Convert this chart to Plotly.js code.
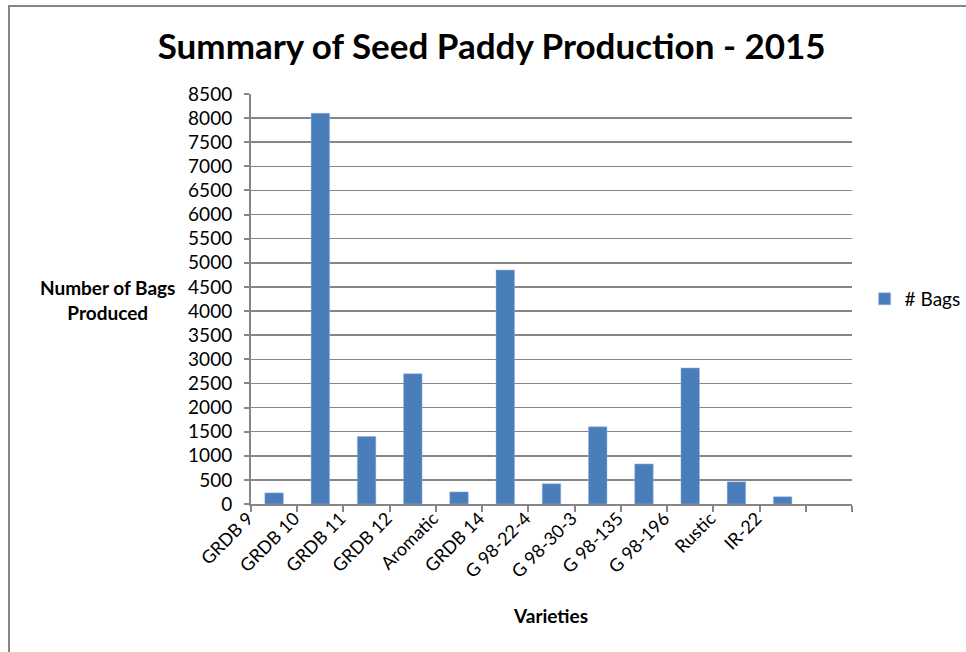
<!DOCTYPE html>
<html>
<head>
<meta charset="utf-8">
<script src="https://cdn.plot.ly/plotly-3.0.1.min.js"></script>
<style>
html,body{margin:0;padding:0;background:#fff;}
#chart{width:966px;height:652px;position:relative;}
#frame{position:absolute;left:8px;top:5px;width:960px;height:660px;border-left:2px solid #868686;border-top:2px solid #868686;pointer-events:none;}
</style>
</head>
<body>
<div id="chart"></div>
<div id="frame"></div>
<script>
const varieties = ['GRDB 9','GRDB 10','GRDB 11','GRDB 12','Aromatic','GRDB 14','G 98-22-4','G 98-30-3','G 98-135','G 98-196','Rustic','IR-22',' '];
const bags = [230, 8100, 1400, 2700, 250, 4850, 420, 1600, 830, 2820, 460, 150, null];
const yTicks = [0,500,1000,1500,2000,2500,3000,3500,4000,4500,5000,5500,6000,6500,7000,7500,8000,8500];

const FONT = 'Lato, "Open Sans", sans-serif';

const trace = {
  type: 'bar',
  x: varieties,
  y: bags,
  name: '# Bags',
  marker: {color: '#4a7ebb', line: {color: '#8eb4e3', width: 0.5}},
  width: 0.4,
  hoverinfo: 'x+y'
};

const layout = {
  width: 966,
  height: 652,
  margin: {l: 251, r: 114, t: 94, b: 148, autoexpand: false},
  paper_bgcolor: '#ffffff',
  plot_bgcolor: '#ffffff',
  font: {family: FONT, color: '#000000'},
  title: {
    text: '<b>Summary of Seed Paddy Production - 2015</b>',
    font: {family: FONT, size: 35, color: '#000000'},
    x: 0.509, xanchor: 'center',
    y: 0.928, yanchor: 'middle'
  },
  xaxis: {
    type: 'category',
    categoryorder: 'array',
    categoryarray: varieties,
    range: [-0.5, 12.5],
    tickson: 'boundaries',
    ticks: 'outside',
    ticklen: 6,
    tickwidth: 2,
    tickcolor: '#868686',
    showline: true,
    linecolor: '#868686',
    linewidth: 2,
    tickangle: -45,
    ticklabelshift: -26,
    ticklabelstandoff: -5,
    tickfont: {family: FONT, size: 18, color: '#000000'},
    showgrid: false,
    zeroline: false
  },
  yaxis: {
    range: [0, 8500],
    tickvals: yTicks,
    ticktext: yTicks.map(String),
    ticks: 'outside',
    ticklen: 5,
    tickwidth: 2,
    tickcolor: '#868686',
    showline: true,
    linecolor: '#868686',
    linewidth: 2,
    showgrid: true,
    gridcolor: '#868686',
    gridwidth: 1.5,
    zeroline: false,
    tickfont: {family: FONT, size: 19, color: '#000000'},
    ticklabelstandoff: 8
  },
  showlegend: true,
  legend: {
    x: 1.021, xanchor: 'left',
    y: 0.5, yanchor: 'middle',
    font: {family: FONT, size: 19, color: '#000000'},
    itemwidth: 30,
    bgcolor: 'rgba(0,0,0,0)'
  },
  annotations: [
    {
      text: '<b>Number of Bags<br>Produced</b>',
      xref: 'paper', yref: 'paper',
      x: -0.238, y: 0.4976,
      xanchor: 'center', yanchor: 'middle',
      showarrow: false,
      align: 'center',
      font: {family: FONT, size: 19, color: '#000000'}
    },
    {
      text: '<b>Varieties</b>',
      xref: 'paper', yref: 'paper',
      x: 0.499, y: -0.271,
      xanchor: 'center', yanchor: 'middle',
      showarrow: false,
      font: {family: FONT, size: 19, color: '#000000'}
    }
  ]
};

Plotly.newPlot('chart', [trace], layout, {displayModeBar: false, staticPlot: true});
</script>
</body>
</html>
